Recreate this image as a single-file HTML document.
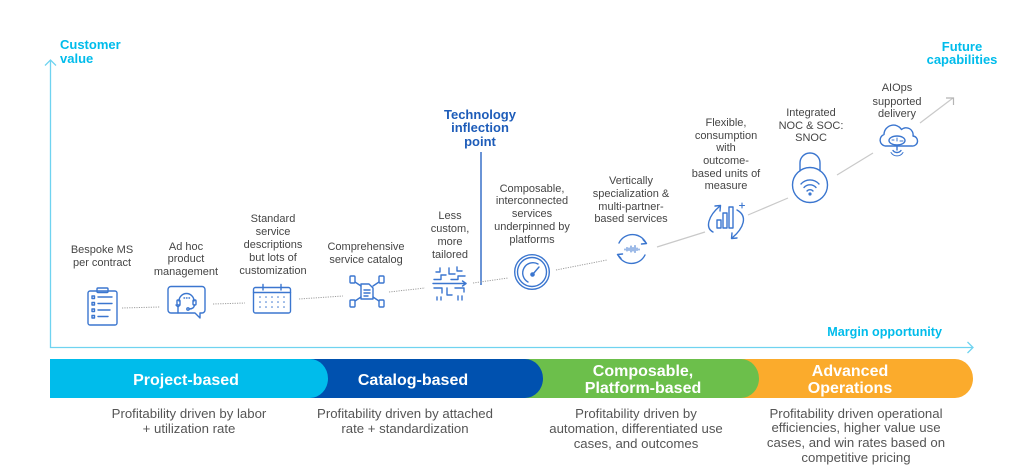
<!DOCTYPE html>
<html><head><meta charset="utf-8"><style>
html,body{margin:0;padding:0;background:#fff;}
svg{display:block;}
text{font-family:"Liberation Sans",Arial,sans-serif;}
.lbl{font-size:11px;fill:#454545;text-anchor:middle;}
.desc{font-size:13.2px;fill:#555;text-anchor:middle;}
.band{font-size:16px;font-weight:bold;fill:#fff;text-anchor:middle;}
.ic{fill:none;stroke:#3b76cf;stroke-width:1.4;stroke-linecap:round;stroke-linejoin:round;}
.dot{stroke:#9e9e9e;stroke-width:1;stroke-dasharray:1.2 1.2;fill:none;}
.sol{stroke:#c9c9c9;stroke-width:1.2;fill:none;}
</style></head><body>
<svg width="1024" height="475" viewBox="0 0 1024 475" xmlns="http://www.w3.org/2000/svg">
<!-- axes -->
<g stroke="#6fd3f0" stroke-width="1.3" fill="none">
<path d="M50.5,60 V347.5 H973"/>
<path d="M45,65.5 L50.5,60 L56,65.5"/>
<path d="M967.5,342 L973,347.5 L967.5,353"/>
</g>
<text x="60" y="49" font-size="13" font-weight="bold" fill="#00bceb">Customer</text>
<text x="60" y="63" font-size="13" font-weight="bold" fill="#00bceb">value</text>
<text x="962" y="51" font-size="13" font-weight="bold" fill="#00bceb" text-anchor="middle">Future</text>
<text x="962" y="64" font-size="13" font-weight="bold" fill="#00bceb" text-anchor="middle">capabilities</text>
<text x="942" y="336" font-size="12.6" font-weight="bold" fill="#00bceb" text-anchor="end">Margin opportunity</text>

<!-- technology inflection -->
<text x="480" y="119" font-size="13" font-weight="bold" fill="#1d5cb9" text-anchor="middle">Technology</text>
<text x="480" y="132" font-size="13" font-weight="bold" fill="#1d5cb9" text-anchor="middle">inflection</text>
<text x="480" y="146" font-size="13" font-weight="bold" fill="#1d5cb9" text-anchor="middle">point</text>
<line x1="481" y1="152" x2="481" y2="285" stroke="#2b66c4" stroke-width="1.4"/>

<!-- connectors -->
<line class="dot" x1="122" y1="308" x2="160" y2="307"/>
<line class="dot" x1="213" y1="304" x2="245" y2="303"/>
<line class="dot" x1="299" y1="299" x2="343" y2="296"/>
<line class="dot" x1="389" y1="292" x2="425" y2="288"/>
<line class="dot" x1="473" y1="283" x2="508" y2="278"/>
<line class="dot" x1="556" y1="270" x2="607" y2="260"/>
<line class="sol" x1="657" y1="247" x2="705" y2="232"/>
<line class="sol" x1="748" y1="215" x2="788" y2="198"/>
<line class="sol" x1="837" y1="175" x2="873" y2="153"/>
<line class="sol" x1="920" y1="123" x2="953" y2="98"/>
<path d="M946,98 H953.5 V105" stroke="#b5b5b5" stroke-width="1.2" fill="none"/>

<!-- labels -->
<text class="lbl" x="102" y="253">Bespoke MS</text>
<text class="lbl" x="102" y="266">per contract</text>
<text class="lbl" x="186" y="250">Ad hoc</text>
<text class="lbl" x="186" y="262">product</text>
<text class="lbl" x="186" y="275">management</text>
<text class="lbl" x="273" y="222">Standard</text>
<text class="lbl" x="273" y="235">service</text>
<text class="lbl" x="273" y="248">descriptions</text>
<text class="lbl" x="273" y="261">but lots of</text>
<text class="lbl" x="273" y="274">customization</text>
<text class="lbl" x="366" y="250">Comprehensive</text>
<text class="lbl" x="366" y="263">service catalog</text>
<text class="lbl" x="450" y="219">Less</text>
<text class="lbl" x="450" y="232">custom,</text>
<text class="lbl" x="450" y="245">more</text>
<text class="lbl" x="450" y="258">tailored</text>
<text class="lbl" x="532" y="192">Composable,</text>
<text class="lbl" x="532" y="204">interconnected</text>
<text class="lbl" x="532" y="217">services</text>
<text class="lbl" x="532" y="230">underpinned by</text>
<text class="lbl" x="532" y="243">platforms</text>
<text class="lbl" x="631" y="184">Vertically</text>
<text class="lbl" x="631" y="197">specialization &amp;</text>
<text class="lbl" x="631" y="210">multi-partner-</text>
<text class="lbl" x="631" y="222">based services</text>
<text class="lbl" x="726" y="126">Flexible,</text>
<text class="lbl" x="726" y="139">consumption</text>
<text class="lbl" x="726" y="151">with</text>
<text class="lbl" x="726" y="164">outcome-</text>
<text class="lbl" x="726" y="177">based units of</text>
<text class="lbl" x="726" y="189">measure</text>
<text class="lbl" x="811" y="116">Integrated</text>
<text class="lbl" x="811" y="129">NOC &amp; SOC:</text>
<text class="lbl" x="811" y="141">SNOC</text>
<text class="lbl" x="897" y="91">AIOps</text>
<text class="lbl" x="897" y="105">supported</text>
<text class="lbl" x="897" y="117">delivery</text>

<!-- icon 1 clipboard -->
<g class="ic">
<rect x="88" y="291" width="29" height="34" rx="2"/>
<rect x="97" y="288" width="11" height="4.5" rx="1"/>
<rect x="92" y="296" width="2.5" height="2.5"/><line x1="98" y1="297" x2="112" y2="297"/>
<rect x="92" y="302.5" width="2.5" height="2.5"/><line x1="98" y1="303.5" x2="112" y2="303.5"/>
<rect x="92" y="309" width="2.5" height="2.5"/><line x1="98" y1="310" x2="110" y2="310"/>
<rect x="92" y="315.5" width="2.5" height="2.5"/><line x1="98" y1="316.5" x2="108" y2="316.5"/>
</g>
<!-- icon 2 bubble headset -->
<g class="ic">
<path d="M171,286.5 H202 a3,3 0 0 1 3,3 V310 a3,3 0 0 1 -3,3 H200 V318 L195,313 H171 a3,3 0 0 1 -3,-3 V289.5 a3,3 0 0 1 3,-3 Z"/>
<path d="M179,301 A7.5,7.5 0 0 1 194,301"/>
<rect x="177" y="300" width="3" height="5" rx="1"/>
<rect x="193" y="300" width="3" height="5" rx="1"/>
<path d="M194.5,305 Q194,309 189,309"/>
<circle cx="188" cy="309" r="1.2"/>
<line x1="184" y1="298" x2="184.5" y2="298"/><line x1="186.5" y1="298" x2="187" y2="298"/><line x1="189" y1="298" x2="189.5" y2="298"/>
<path d="M176,305 l2,2 l2,-2 M178,307 V313"/>
</g>
<!-- icon 3 calendar -->
<g class="ic">
<rect x="253.5" y="287.5" width="37" height="25.5" rx="2"/>
<line x1="253.5" y1="292.5" x2="290.5" y2="292.5"/>
<line x1="263" y1="284.5" x2="263" y2="290"/>
<line x1="281" y1="284.5" x2="281" y2="290"/>
</g>
<g fill="#3b76cf">
<circle cx="260" cy="297" r="0.8"/><circle cx="266" cy="297" r="0.8"/><circle cx="272" cy="297" r="0.8"/><circle cx="278" cy="297" r="0.8"/><circle cx="284" cy="297" r="0.8"/>
<circle cx="260" cy="302" r="0.8"/><circle cx="266" cy="302" r="0.8"/><circle cx="272" cy="302" r="0.8"/><circle cx="278" cy="302" r="0.8"/><circle cx="284" cy="302" r="0.8"/>
<circle cx="260" cy="307" r="0.8"/><circle cx="266" cy="307" r="0.8"/><circle cx="272" cy="307" r="0.8"/><circle cx="278" cy="307" r="0.8"/><circle cx="284" cy="307" r="0.8"/>
</g>
<!-- icon 4 network -->
<g class="ic">
<path d="M361,284 H369 L373,288 V299 H361 Z"/>
<line x1="364" y1="290" x2="370" y2="290"/><line x1="364" y1="293" x2="370" y2="293"/><line x1="364" y1="296" x2="368" y2="296"/>
<rect x="350" y="276" width="5" height="7" rx="1"/>
<rect x="379" y="276" width="5" height="7" rx="1"/>
<rect x="350" y="300" width="5" height="7" rx="1"/>
<rect x="379" y="300" width="5" height="7" rx="1"/>
<line x1="355" y1="282" x2="361" y2="286"/>
<line x1="379" y1="282" x2="373" y2="286"/>
<line x1="355" y1="301" x2="361" y2="297"/>
<line x1="379" y1="301" x2="373" y2="297"/>
</g>
<!-- icon 5 circuit -->
<g class="ic" stroke-width="1.2">
<line x1="433" y1="283.5" x2="466" y2="283.5"/>
<path d="M462.5,281 L466,283.5 L462.5,286"/>
<path d="M434,279.5 H441 V275 H446"/>
<path d="M436,272 H440 V268"/>
<path d="M449,268 V274 H455"/>
<path d="M457,267 V271 H462"/>
<path d="M451,279.5 H458 V276 H465"/>
<path d="M434,288 H442 V293"/>
<path d="M437,297 V300"/><path d="M441,297 V300"/>
<path d="M447,288 V295 H452"/>
<path d="M455,288 H464 V292"/>
<path d="M458,296 V300"/><path d="M462,296 V300"/>
</g>
<!-- icon 6 gauge -->
<g class="ic">
<circle cx="532" cy="272" r="17.3"/>
<circle cx="532" cy="272" r="14.5"/>
<path d="M528,282 A9.5,9.5 0 0 1 538,264"/>
<line x1="533" y1="274" x2="539" y2="267"/>
<circle cx="532.5" cy="274.5" r="1.6" fill="#3b76cf"/>
</g>
<!-- icon 7 circular arrows -->
<g class="ic">
<path d="M619,243 A15,15 0 0 1 646,243"/>
<path d="M643,239.5 L646.5,243.5 L641.5,244"/>
<path d="M645,255 A15,15 0 0 1 618,255"/>
<path d="M621,258.5 L617.5,254.5 L622.5,254"/>
<g stroke-width="1">
<line x1="625" y1="249" x2="625" y2="250"/><line x1="627" y1="247.5" x2="627" y2="251"/><line x1="629" y1="248" x2="629" y2="250.5"/>
<line x1="631" y1="246" x2="631" y2="252"/><line x1="633" y1="247.5" x2="633" y2="251"/><line x1="635" y1="245.5" x2="635" y2="252.5"/>
<line x1="637" y1="248" x2="637" y2="250.5"/><line x1="639" y1="249" x2="639" y2="250"/>
</g>
</g>
<!-- icon 8 chart -->
<g class="ic">
<rect x="717" y="220" width="4" height="8"/>
<rect x="723" y="213" width="4" height="15"/>
<rect x="729" y="207" width="4" height="21"/>
<path d="M713,232 C705,228 708,216 720,206"/>
<path d="M715,206 L720.5,205.5 L720,211"/>
<path d="M737,210 C748,216 744,228 732,238"/>
<path d="M732,233 L731.5,238.5 L737,238"/>
<path d="M742,203 V208 M739.5,205.5 H744.5" stroke-width="1.1"/>
</g>
<!-- icon 9 lock -->
<g class="ic">
<path d="M800,171 V163 A10,10 0 0 1 820,163 V171"/>
<circle cx="810" cy="185" r="17.5"/>
<path d="M801,184 A12,12 0 0 1 819,184"/>
<path d="M804,187.5 A8,8 0 0 1 816,187.5"/>
<path d="M807,191 A4,4 0 0 1 813,191"/>
<circle cx="810" cy="194" r="0.9" fill="#3b76cf"/>
</g>
<!-- icon 10 cloud -->
<g class="ic">
<path d="M885,146 A6,6 0 0 1 884,134.5 A9.5,9.5 0 0 1 901.5,129.5 A7,7 0 0 1 913,136 A5,5 0 0 1 912,146 Z"/>
<ellipse cx="897" cy="140.5" rx="8" ry="4.5"/>
<path d="M892,140 h2 M897,138 v3 M900,141 h3" stroke-width="1"/>
<line x1="897" y1="146" x2="897" y2="150"/>
<path d="M893,150.5 A5,5 0 0 0 901,150.5"/>
<path d="M891,152.5 A7,7 0 0 0 903,152.5" stroke-width="1"/>
</g>

<!-- band -->
<path d="M730,359 H955 A18,19.5 0 0 1 955,398 H730 Z" fill="#fbab2c"/>
<path d="M520,359 H741 A18,19.5 0 0 1 741,398 H520 Z" fill="#6cbf4b"/>
<path d="M300,359 H525 A18,19.5 0 0 1 525,398 H300 Z" fill="#0051af"/>
<path d="M50,359 H310 A18,19.5 0 0 1 310,398 H50 Z" fill="#00bceb"/>
<text class="band" x="186" y="385">Project-based</text>
<text class="band" x="413" y="385">Catalog-based</text>
<text class="band" x="643" y="376">Composable,</text>
<text class="band" x="643" y="393">Platform-based</text>
<text class="band" x="850" y="376">Advanced</text>
<text class="band" x="850" y="393">Operations</text>

<!-- descriptions -->
<text class="desc" x="189" y="418">Profitability driven by labor</text>
<text class="desc" x="189" y="433">+ utilization rate</text>
<text class="desc" x="405" y="418">Profitability driven by attached</text>
<text class="desc" x="405" y="433">rate + standardization</text>
<text class="desc" x="636" y="418">Profitability driven by</text>
<text class="desc" x="636" y="433">automation, differentiated use</text>
<text class="desc" x="636" y="448">cases, and outcomes</text>
<text class="desc" x="856" y="418">Profitability driven operational</text>
<text class="desc" x="856" y="432">efficiencies, higher value use</text>
<text class="desc" x="856" y="447">cases, and win rates based on</text>
<text class="desc" x="856" y="462">competitive pricing</text>
</svg>
</body></html>
